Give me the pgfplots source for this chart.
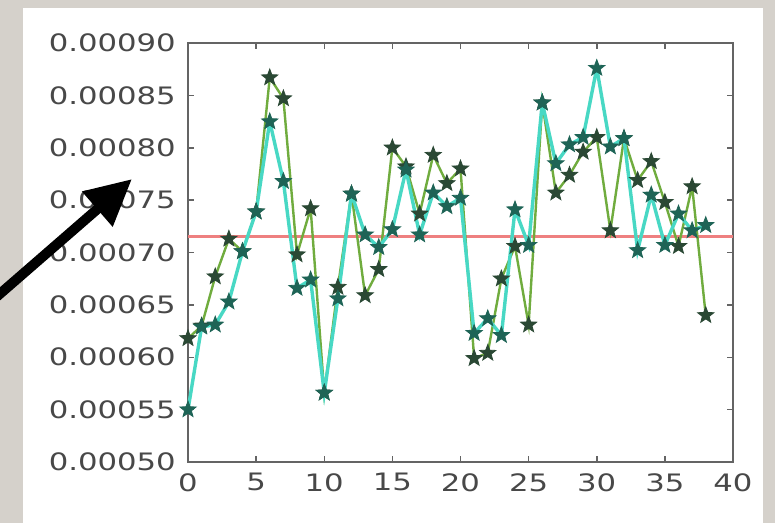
\documentclass[border=0pt]{standalone}
\usepackage{pgfplots}
\pgfplotsset{compat=1.18}
\usepackage{fontspec}
\usetikzlibrary{arrows.meta}
\newfontfamily\tickfont[FakeStretch=1.28]{DejaVu Sans}
\definecolor{marble}{RGB}{213,209,203}
\definecolor{cyanl}{RGB}{72,216,196}
\definecolor{greenl}{RGB}{112,172,62}
\definecolor{cmark}{RGB}{30,100,86}
\definecolor{gmark}{RGB}{42,72,52}
\definecolor{meanl}{RGB}{238,128,128}
\definecolor{framec}{RGB}{100,100,100}
\definecolor{tickc}{RGB}{72,72,72}
\pgfdeclareplotmark{fstar}{%
  \pgfpathmoveto{\pgfpointpolar{90}{\pgfplotmarksize}}%
  \pgfpathlineto{\pgfpointpolar{126}{0.42\pgfplotmarksize}}%
  \pgfpathlineto{\pgfpointpolar{162}{\pgfplotmarksize}}%
  \pgfpathlineto{\pgfpointpolar{198}{0.42\pgfplotmarksize}}%
  \pgfpathlineto{\pgfpointpolar{234}{\pgfplotmarksize}}%
  \pgfpathlineto{\pgfpointpolar{270}{0.42\pgfplotmarksize}}%
  \pgfpathlineto{\pgfpointpolar{306}{\pgfplotmarksize}}%
  \pgfpathlineto{\pgfpointpolar{342}{0.42\pgfplotmarksize}}%
  \pgfpathlineto{\pgfpointpolar{18}{\pgfplotmarksize}}%
  \pgfpathlineto{\pgfpointpolar{54}{0.42\pgfplotmarksize}}%
  \pgfpathclose
  \pgfusepathqfillstroke
}
\pgfplotstableread{
x y
0 0.000618
1 0.000630
2 0.000677
3 0.000713
4 0.000701
5 0.000739
6 0.000867
7 0.000847
8 0.000698
9 0.000742
10 0.000566
11 0.000667
12 0.000756
13 0.000659
14 0.000684
15 0.000800
16 0.000782
17 0.000737
18 0.000793
19 0.000766
20 0.000780
21 0.000599
22 0.000604
23 0.000675
24 0.000706
25 0.000631
26 0.000843
27 0.000757
28 0.000774
29 0.000796
30 0.000810
31 0.000721
32 0.000809
33 0.000769
34 0.000787
35 0.000748
36 0.000706
37 0.000763
38 0.000640
}\greendata
\pgfplotstableread{
x y
0 0.000550
1 0.000629
2 0.000631
3 0.000653
4 0.000701
5 0.000739
6 0.000825
7 0.000768
8 0.000666
9 0.000674
10 0.000566
11 0.000656
12 0.000756
13 0.000717
14 0.000705
15 0.000722
16 0.000779
17 0.000717
18 0.000757
19 0.000744
20 0.000752
21 0.000623
22 0.000637
23 0.000621
24 0.000741
25 0.000707
26 0.000843
27 0.000785
28 0.000803
29 0.000810
30 0.000876
31 0.000801
32 0.000809
33 0.000702
34 0.000755
35 0.000707
36 0.000737
37 0.000721
38 0.000726
}\cyandata
\begin{document}
\begin{tikzpicture}
\path[use as bounding box, fill=marble] (0,0) rectangle (775pt,523pt);
\fill[white] (23pt,0) rectangle (763pt,515pt);
\begin{axis}[
  at={(188pt,61pt)}, anchor=south west,
  scale only axis, width=545pt, height=419pt,
  xmin=0, xmax=40, ymin=0.0005, ymax=0.0009,
  xtick={0,5,10,15,20,25,30,35,40},
  xticklabels={0,5,10,15,20,25,30,35,40},
  ytick={0.0005,0.00055,0.0006,0.00065,0.0007,0.00075,0.0008,0.00085,0.0009},
  yticklabels={0.00050,0.00055,0.00060,0.00065,0.00070,0.00075,0.00080,0.00085,0.00090},
  scaled y ticks=false,
  /pgf/number format/assume math mode=true,
  tick label style={font=\tickfont\fontsize{24}{24}\selectfont, text=tickc, inner sep=0pt},
  yticklabel style={anchor=east, xshift=-12pt},
  xticklabel style={anchor=north, yshift=-11pt},
  axis line style={draw=framec, line width=2.8pt},
  major tick length=6pt,
  every tick/.style={draw=framec, line width=1.5pt},
  clip=false,
]
\addplot[meanl, line width=3pt, forget plot] coordinates {(0,0.000715) (40,0.000715)};
\addplot[greenl, line width=2.4pt, mark=fstar, mark size=8.5pt,
  mark options={fill=gmark, draw=gmark, line width=0.8pt}] table[x=x,y=y] {\greendata};
\addplot[cyanl, line width=3.4pt, mark=fstar, mark size=8.5pt,
  mark options={fill=cmark, draw=cmark, line width=0.8pt}] table[x=x,y=y] {\cyandata};
\end{axis}
\draw[line width=10pt, -{Triangle[length=46pt,width=44pt]}] (-6pt,224pt) -- (132pt,344pt);
\end{tikzpicture}
\end{document}
